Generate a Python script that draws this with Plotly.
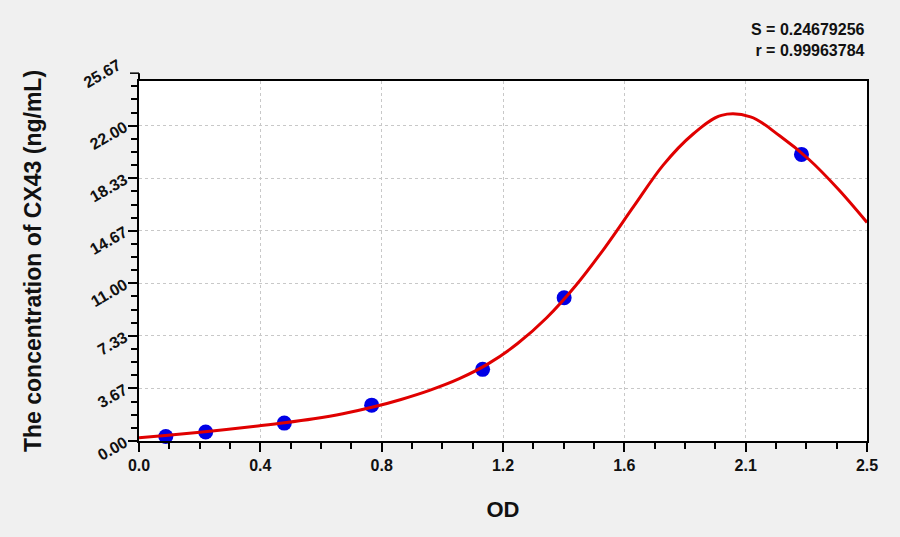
"""
Standard curve for CX43 ELISA: concentration vs OD with fitted curve.
"""

import plotly.graph_objects as go

# standards
OD = [0.092, 0.229, 0.499, 0.799, 1.180, 1.460, 2.275]
CONC = [0.3125, 0.625, 1.25, 2.5, 5.0, 10.0, 20.0]

# fitted curve, every 0.1 OD
CURVE_OD = [0.0, 0.1, 0.2, 0.3, 0.4, 0.5, 0.6, 0.7, 0.8, 0.9, 1.0, 1.1, 1.2,
            1.3, 1.4, 1.5, 1.6, 1.7, 1.8, 1.9, 2.0, 2.1, 2.2, 2.3, 2.4, 2.5]
CURVE_CONC = [0.22, 0.40, 0.60, 0.80, 1.03, 1.27, 1.55, 1.90, 2.35, 2.90,
              3.55, 4.35, 5.40, 6.80, 8.60, 10.85, 13.50, 16.40, 19.25, 21.37,
              22.72, 22.62, 21.30, 19.66, 17.60, 15.25]

X_TICKVALS = [0.0, 2.5 / 6, 5.0 / 6, 1.25, 10.0 / 6, 12.5 / 6, 2.5]
X_TICKTEXT = ["0.0", "0.4", "0.8", "1.2", "1.6", "2.1", "2.5"]
Y_TICKVALS = [0.0, 11 / 3, 22 / 3, 11.0, 44 / 3, 55 / 3, 22.0]
Y_TOP_TICK = 77 / 3          # 25.67, drawn above the frame
Y_TOP = 25.12                # top of plot frame

S_VALUE = "0.24679256"
R_VALUE = "0.99963784"

FONT = "Liberation Sans, Arial, sans-serif"
BG = "#F0F0F0"
GRID = "#C8C8C8"

fig = go.Figure()

fig.add_trace(
    go.Scatter(
        x=OD,
        y=CONC,
        mode="markers",
        marker=dict(color="#0000E6", size=15, line=dict(width=0)),
        showlegend=False,
        cliponaxis=False,
    )
)
fig.add_trace(
    go.Scatter(
        x=CURVE_OD,
        y=CURVE_CONC,
        mode="lines",
        line=dict(color="#E00000", width=3, shape="spline", smoothing=1.0),
        showlegend=False,
    )
)

axis_font = dict(family=FONT, size=16, color="#111111", weight="bold")

fig.update_xaxes(
    range=[0, 2.5],
    tickmode="array",
    tickvals=X_TICKVALS,
    ticktext=X_TICKTEXT,
    tickfont=axis_font,
    ticks="outside",
    ticklen=9,
    tickwidth=1.5,
    tickcolor="black",
    minor=dict(dtick=2.5 / 24, tick0=0, ticks="outside", ticklen=6,
               tickwidth=1.5, tickcolor="black", showgrid=False),
    showline=True,
    linecolor="black",
    linewidth=2,
    mirror=True,
    showgrid=True,
    gridcolor=GRID,
    griddash="dot",
    gridwidth=1,
    zeroline=False,
    title=dict(text="OD", font=dict(family=FONT, size=22, color="#111111",
                                    weight="bold"), standoff=28),
)
fig.update_yaxes(
    range=[0, Y_TOP],
    tickmode="array",
    tickvals=Y_TICKVALS,
    tickformat=".2f",
    tickangle=-30,
    tickfont=axis_font,
    ticks="outside",
    ticklen=9,
    tickwidth=1.5,
    tickcolor="black",
    minor=dict(dtick=11 / 12, tick0=0, ticks="outside", ticklen=6,
               tickwidth=1.5, tickcolor="black", showgrid=False),
    showline=True,
    linecolor="black",
    linewidth=2,
    mirror=True,
    showgrid=True,
    gridcolor=GRID,
    griddash="dot",
    gridwidth=1,
    zeroline=False,
    title=dict(text="The concentration of CX43 (ng/mL)",
               font=dict(family=FONT, size=23, color="#111111", weight="bold"),
               standoff=39),
)

# y axis line and top tick continue above the frame
top = Y_TOP_TICK / Y_TOP
fig.add_shape(type="line", xref="paper", yref="paper", x0=0, x1=0, y0=1, y1=top,
              line=dict(color="black", width=2))
fig.add_shape(type="line", xref="paper", yref="paper", x0=-0.0124, x1=0,
              y0=top, y1=top, line=dict(color="black", width=1.5))
fig.add_annotation(
    x=-0.017, xref="paper", y=top, yref="paper",
    text=f"{Y_TOP_TICK:.2f}", showarrow=False, textangle=-30,
    xanchor="right", yanchor="middle",
    font=axis_font,
)

fig.add_annotation(
    x=1.0, xref="paper", y=1.0, yref="paper", yshift=62,
    text=f"S = {S_VALUE}<br>r = {R_VALUE}",
    showarrow=False, align="right", xanchor="right", yanchor="top",
    font=dict(family=FONT, size=16, color="#111111", weight="bold"),
)

fig.update_layout(
    width=900,
    height=537,
    paper_bgcolor=BG,
    plot_bgcolor="white",
    margin=dict(l=139, r=33, t=81, b=96),
)

fig.write_html("out.html", config={"displayModeBar": False},
               post_script="document.body.style.margin='0';")
